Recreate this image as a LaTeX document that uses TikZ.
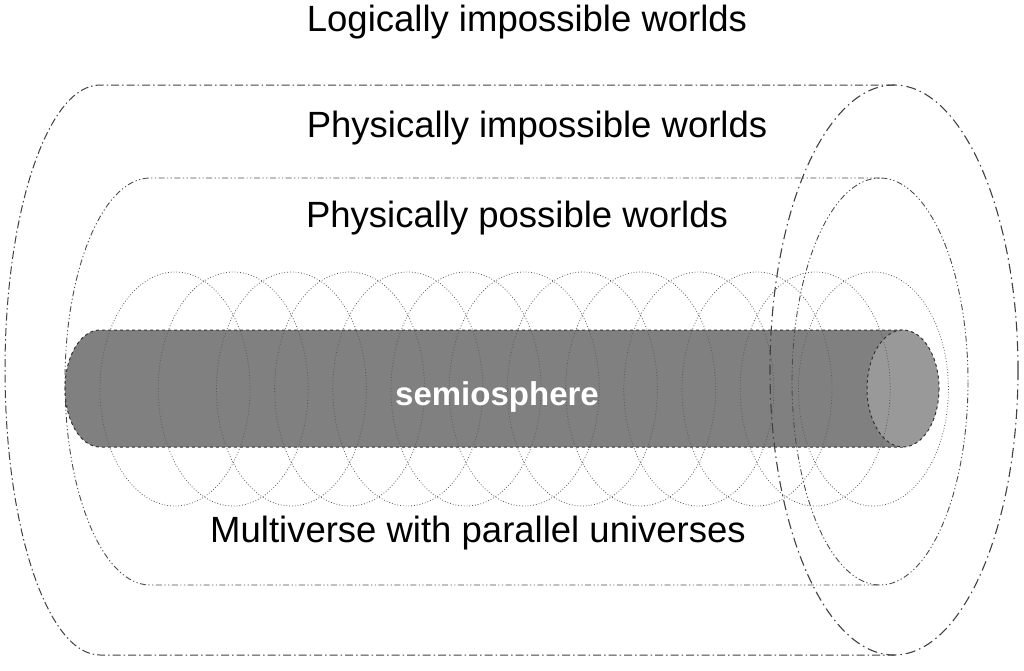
\documentclass[tikz,border=0pt]{standalone}
\usepackage{fontspec}
\setmainfont{Liberation Sans}
\begin{document}
\begin{tikzpicture}[x=1pt,y=-1pt,
  lbl/.style={font=\fontsize{36.5}{40}\selectfont, inner sep=0pt},
  dashdot/.style={draw=black!75, line width=1pt, dash pattern=on 8pt off 3pt on 1.5pt off 3pt},
  dashdotdot/.style={draw=black!70, line width=0.9pt, dash pattern=on 6pt off 2.5pt on 1.2pt off 2.5pt on 1.2pt off 2.5pt},
  longdash/.style={draw=black!75, line width=1.1pt, dash pattern=on 10pt off 4pt on 1.5pt off 4pt},
  ring/.style={draw=black!65, line width=0.8pt, dotted}]
\useasboundingbox (0,0) rectangle (1024,670);
% outer region
\draw[dashdot] (894,85) -- (100,85) arc[start angle=270,end angle=90,x radius=95,y radius=285] -- (894,655);
% inner region
\draw[dashdotdot] (880,178) -- (150,178) arc[start angle=270,end angle=90,x radius=85,y radius=203.5] -- (880,585);
% semiosphere body
\fill[black!50] (903,330) -- (100,330) arc[start angle=270,end angle=90,x radius=35,y radius=58.5] -- (903,447) -- cycle;
\draw[dashed, line width=1pt, black!80] (903,330) -- (100,330) arc[start angle=270,end angle=90,x radius=35,y radius=58.5] -- (903,447);
\filldraw[fill=black!40, draw=black!80, dashed, line width=1pt] (903,388.5) ellipse[x radius=36, y radius=58.5];
% parallel universes
\foreach \i in {0,...,12}{
  \draw[ring] ({175+58.2*\i},389) ellipse[x radius=75, y radius=117];
}
% right ellipses
\draw[dashdotdot] (880,381.5) ellipse[x radius=88, y radius=203.5];
\draw[longdash] (894,370) ellipse[x radius=124, y radius=285];
% labels
\node[lbl] (l1) at (527,22) {Logically impossible worlds};
\node[lbl] (l2) at (537,128) {Physically impossible worlds};
\node[lbl] (l3) at (517,218) {Physically possible worlds};
\node[lbl] (l4) at (478,533) {Multiverse with parallel universes};
\node[lbl, font=\fontsize{33}{36}\selectfont\bfseries, text=white] (s) at (497,397) {semiosphere};
\end{tikzpicture}
\end{document}
